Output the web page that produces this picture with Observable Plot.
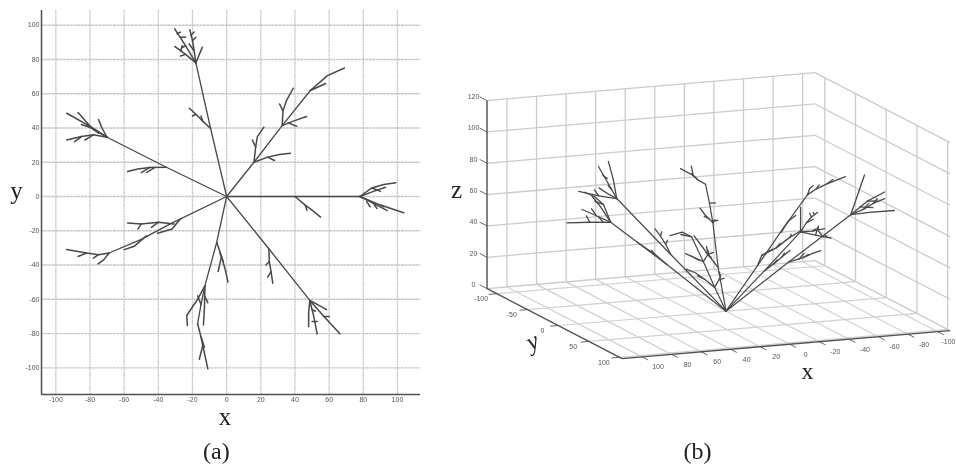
<!DOCTYPE html>
<html><head><meta charset="utf-8">
<script src="https://cdn.jsdelivr.net/npm/d3@7"></script>
<script src="https://cdn.jsdelivr.net/npm/@observablehq/plot@0.6"></script>
<style>
html,body{margin:0;padding:0;background:#fff;overflow:hidden}
#wrap{position:relative;width:956px;height:465px;background:#fff}
#wrap svg{position:absolute;top:0;filter:blur(0.6px);max-width:none}
</style></head><body><div id="wrap"></div>
<script>
// axis limits shared by both panels
const xLimits = [-108.4, 113.5];
const yLimits = [-115.6, 108.6];
const yLimits3d = [-116, 104];
const zLimits = [0, 120];
const xTicks = [-100,-80,-60,-40,-20,0,20,40,60,80,100];
const yTicks = [-100,-80,-60,-40,-20,0,20,40,60,80,100];
const yTicks3d = [-100,-50,0,50,100];
const zTicks = [0,20,40,60,80,100,120];

// branch polylines: [x, y, z]
const trunkA = [[0,0,0],[-9.4,39.7,33],[-18,78,65]];
const tipsA = [
  [[-18,78,65],[-24,88,64.5],[-30.4,97.9,64]],
  [[-18,78,65],[-19,85,72],[-20,91,77],[-21.5,97.3,81]],
  [[-18,78,65],[-24,83,66],[-30.4,87.6,68]],
  [[-18,78,65],[-16,83,74],[-14.2,87.2,83]],
  [[-24,88,64.5],[-26,87,69]],[[-27,93,64],[-24,93,68]],
  [[-19,85,72],[-22,89,75]],[[-20,91,77],[-18,93,80]],
  [[-24,83,66],[-27,82,67]],[[-27,85,67],[-26,88,70]],
  [[-29,95,64],[-27,96,66]],[[-21,94,79],[-19,96,81]],
  [[-9.4,39.7,33],[-14,44,38],[-18,48,43],[-21.8,51.5,47.5]],
  [[-14,44,38],[-15,47,41]],[[-18,48,43],[-20,47,45]]
];
const trunkB = [[0,0,0],[-35.3,17.1,32],[-70,34.6,63]];
const tipsB = [
  [[-70,34.6,63],[-80,41,65],[-93.6,48.6,66.6]],
  [[-70,34.6,63],[-79,40,72],[-87,49,79]],
  [[-70,34.6,63],[-78,36,66],[-85,35,69],[-93.6,33,71]],
  [[-70,34.6,63],[-73,40,78],[-75,45,90]],
  [[-78,36,66],[-83,33,69]],[[-85,35,69],[-89,32,71]],
  [[-79,40,72],[-85,42,72]],[[-75,37,68],[-82,42,68]],
  [[-35.3,17.1,32],[-45,17,34],[-52,16,36],[-58,14.6,37]],
  [[-45,17,34],[-50,14,35]],[[-42,17,33],[-47,14,36]]
];
const trunkC = [[0,0,0],[40,0,33],[78,0,63]];
const tipsC = [
  [[78,0,63],[90,-5,63],[103.7,-9.5,62.8]],
  [[78,0,63],[86,-4,67],[94,-8.2,70.8]],
  [[78,0,63],[85,5,76],[92,7,82],[99,8,85.5]],
  [[78,0,63],[86,3,74],[93,5.4,82]],
  [[86,-4,67],[88,-7,71]],[[85,5,76],[90,3,78]],[[82,-3,63],[84,-6,66]],
  [[90,-5,63],[92,-6,67]],
  [[40,0,33],[46,-5,39],[50,-8,42],[55,-12,46]],
  [[46,-5,39],[47,-8,41]]
];
const trunkD = [[0,0,0],[24.7,-30.5,32],[48.7,-60.7,63.5]];
const tipsD = [
  [[48.7,-60.7,63.5],[57,-70,64],[66.3,-80.2,65.5]],
  [[48.7,-60.7,63.5],[51,-70,72],[53,-80.2,80.3]],
  [[48.7,-60.7,63.5],[53,-63,66],[58.5,-66,70]],
  [[48.7,-60.7,63.5],[48,-68,74],[48,-76,84]],
  [[57,-70,64],[60,-70,68]],[[50,-66,68],[52,-67,71]],[[50,-73,74],[53,-73,76]],
  [[24.7,-30.5,32],[25,-38,37],[26,-44,41],[27,-50.6,44.5]],
  [[25,-38,37],[23,-40,39]],[[26,-44,41],[24,-47,43]]
];
const trunkE = [[0,0,0],[-5.8,-26.7,22],[-12.7,-52,45],[-15,-63,55],[-17,-74.3,64.6]];
const tipsE = [
  [[-17,-74.3,64.6],[-15,-82,66],[-14,-87,67.8],[-11,-100.6,69.7]],
  [[-14,-87,67.8],[-16,-95,72]],
  [[-12.7,-52,45],[-17,-60,44],[-23.4,-69.5,42],[-23,-75.3,41]],
  [[-12.7,-52,45],[-13,-65,47],[-13.6,-75,49.5]],
  [[-13,-58,46],[-11,-62,47]],[[-15,-63,55],[-17,-58,56]],[[-15,-82,66],[-13,-88,69]],
  [[-5.8,-26.7,22],[-3,-35,28],[-1,-42,33],[0.8,-50,38]],
  [[-3,-35,28],[-5,-43.8,32]],[[-4,-33,27],[-2,-38,30]]
];
const trunkF = [[0,0,0],[-33,-16,30],[-50,-25,45],[-68.8,-33,62]];
const tipsF = [
  [[-68.8,-33,62],[-75,-34,65],[-82,-33,68],[-93.7,-31,72]],
  [[-68.8,-33,62],[-72,-37,65],[-75.3,-39.3,66]],
  [[-82,-33,68],[-87,-35,70]],[[-75,-34,65],[-78,-36,67]],
  [[-30.8,-16,30],[-40,-15,34],[-50,-16,40],[-58,-15.4,44]],
  [[-40,-15,34],[-44,-18,36]],[[-50,-16,40],[-52,-19,41]],
  [[-27,-13,25],[-32,-19,29],[-40.5,-21.4,32]],
  [[-47,-23,42],[-54,-29,47],[-60,-31,50]]
];
const trunkG = [[0,0,0],[16,20,20.7],[32.5,41.4,42.6],[49,61.9,64]];
const tipsG = [
  [[49,61.9,64],[59,70.6,69.5],[69,75,69]],
  [[49,61.9,64],[58,66,67]],
  [[16,20,20.7],[24,23,27],[31,24.5,32],[37.4,25.3,35]],
  [[24,23,27],[28,21,29]],
  [[16,20,20.7],[17,29,27],[18,35,31],[21.8,40.5,35]],
  [[17,29,27],[15,33,29]],
  [[32.5,41.4,42.6],[39,44,46],[46.8,46.7,50]],
  [[36,43,44],[41,41,47]],
  [[32.5,41.4,42.6],[33,50,49],[35,56,52],[39,63.2,55]],
  [[33,50,49],[31,54,51]]
];

const trunks = [trunkA,trunkB,trunkC,trunkD,trunkE,trunkF,trunkG];
const tips = [...tipsA,...tipsB,...tipsC,...tipsD,...tipsE,...tipsF,...tipsG];
const toRows = list => list.flatMap((b,id)=>b.map(([x,y,z])=>({id,x,y,z})));
const trunkRows = toRows(trunks), tipRows = toRows(tips);

const ink = "#484848", gridInk = "#c6c6c6", axisInk = "#505050", labelInk = "#555";
const serif = "Liberation Serif, serif", sans = "Liberation Sans, sans-serif";

// (a) plan view
const a = Plot.plot({
  width:440, height:465,
  marginLeft:41, marginRight:20, marginTop:10, marginBottom:71,
  style:{background:"transparent", fontFamily:sans, fontSize:"7px"},
  x:{domain:xLimits}, y:{domain:yLimits},
  marks:[
    Plot.ruleX(xTicks,{stroke:gridInk,strokeWidth:1.3,strokeDasharray:"2 0.6"}),
    Plot.ruleY(yTicks,{stroke:gridInk,strokeWidth:1.3,strokeDasharray:"3 0.6"}),
    Plot.line(trunkRows,{x:"x",y:"y",z:"id",stroke:ink,strokeWidth:1.3}),
    Plot.line(tipRows,{x:"x",y:"y",z:"id",stroke:ink,strokeWidth:1.5}),
    Plot.ruleX([xLimits[0]],{stroke:axisInk,strokeWidth:1.5}),
    Plot.ruleY([yLimits[0]],{stroke:axisInk,strokeWidth:1.5}),
    Plot.axisX(xTicks,{anchor:"bottom",label:null,tickSize:0,tickPadding:3,tickFormat:d=>String(d),fill:labelInk,fontSize:7}),
    Plot.axisY(yTicks,{anchor:"left",label:null,tickSize:0,tickPadding:2,tickFormat:d=>String(d),fill:labelInk,fontSize:7}),
    Plot.text(["x"],{x:-1,y:-128.5,text:d=>d,fontFamily:serif,fontSize:25,fill:"#222"}),
    Plot.text(["y"],{x:-123,y:3,text:d=>d,fontFamily:serif,fontSize:25,fill:"#222"}),
    Plot.text(["(a)"],{x:-6,y:-149,text:d=>d,fontFamily:serif,fontSize:24,fill:"#222"})
  ]
});
a.style.left="0px";

// (b) orthographic view: screen position of an (x, y, z) point
const viewOrigin = [725.5, 310.7];
const viewX = [-1.478, 0.126], viewY = [0.614, 0.318], viewZ = -1.567;
const px = (x,y) => viewOrigin[0] + viewX[0]*x + viewY[0]*y;
const py = (x,y,z) => viewOrigin[1] + viewX[1]*x + viewY[1]*y + viewZ*z;
const seg = (p,q)=>({x1:px(p[0],p[1]),y1:py(...p),x2:px(q[0],q[1]),y2:py(...q)});

const [x0,x1] = xLimits, [y0,y1] = yLimits3d, zTop = zLimits[1];
const wallGrid = [
  ...xTicks.map(x=>seg([x,y0,0],[x,y0,zTop])),
  ...yTicks3d.map(y=>seg([x0,y,0],[x0,y,zTop])),
  ...zTicks.slice(1).flatMap(z=>[seg([x1,y0,z],[x0,y0,z]),seg([x0,y0,z],[x0,y1,z])]),
  seg([x1,y0,0],[x0,y0,0]),seg([x0,y0,0],[x0,y1,0])
];
const floorGrid = [
  ...xTicks.map(x=>seg([x,y0,0],[x,y1,0])),
  ...yTicks3d.map(y=>seg([x0,y,0],[x1,y,0]))
];
const axes3d = [seg([x1,y0,0],[x1,y0,zTop]),seg([x1,y0,0],[x1,y1,0]),seg([x1,y1,0],[x0,y1,0])];
const ticks3d = [
  ...zTicks.map(z=>seg([x1,y0,z],[x1,y0-12,z])),
  ...yTicks3d.map(y=>seg([x1,y,0],[x1+5.5,y,0])),
  ...xTicks.map(x=>seg([x,y1,0],[x,y1+10,0]))
];
const tickText = [
  ...zTicks.map(z=>({u:px(x1,y0-22),v:py(x1,y0-22,z)+3,t:String(z)})),
  ...yTicks3d.map(y=>({u:px(x1+10,y)-1,v:py(x1+10,y,0)+4,t:String(y)})),
  ...xTicks.map(x=>({u:Math.min(px(x,y1+26),948),v:py(x,y1+26,0)+2,t:String(x)}))
];
const link = (d,o)=>Plot.link(d,{x1:"x1",y1:"y1",x2:"x2",y2:"y2",...o});
const pu = d=>px(d.x,d.y), pv = d=>py(d.x,d.y,d.z);

const b = Plot.plot({
  width:516, height:465, margin:0,
  style:{background:"transparent", fontFamily:sans, fontSize:"7px"},
  x:{domain:[440,956],axis:null}, y:{domain:[465,0],axis:null},
  marks:[
    link(floorGrid,{stroke:"#d0d0d0",strokeWidth:1.2}),
    link(wallGrid,{stroke:"#cbcbcb",strokeWidth:1.3}),
    link(ticks3d,{stroke:"#666",strokeWidth:1}),
    link(axes3d,{stroke:axisInk,strokeWidth:1.4}),
    Plot.line(trunkRows,{x:pu,y:pv,z:"id",stroke:ink,strokeWidth:1.2}),
    Plot.line(tipRows,{x:pu,y:pv,z:"id",stroke:ink,strokeWidth:1.3}),
    Plot.text(tickText,{x:"u",y:"v",text:"t",fill:labelInk,fontSize:7}),
    Plot.text(["x"],{frameAnchor:"top-left",dx:367,dy:371,text:d=>d,textAnchor:"middle",fontFamily:serif,fontSize:24,fill:"#222",lineAnchor:"middle"}),
    Plot.text(["z"],{frameAnchor:"top-left",dx:16,dy:189,text:d=>d,textAnchor:"middle",fontFamily:serif,fontSize:25,fill:"#222",lineAnchor:"middle"}),
    Plot.text(["y"],{frameAnchor:"top-left",dx:92,dy:341,text:d=>d,textAnchor:"middle",fontFamily:serif,fontStyle:"italic",fontSize:25,rotate:-25,fill:"#222",lineAnchor:"middle"}),
    Plot.text(["(b)"],{frameAnchor:"top-left",dx:257,dy:451,text:d=>d,textAnchor:"middle",fontFamily:serif,fontSize:24,fill:"#222",lineAnchor:"middle"})
  ]
});
b.style.left="440px";
document.getElementById("wrap").append(a,b);
</script></body></html>
